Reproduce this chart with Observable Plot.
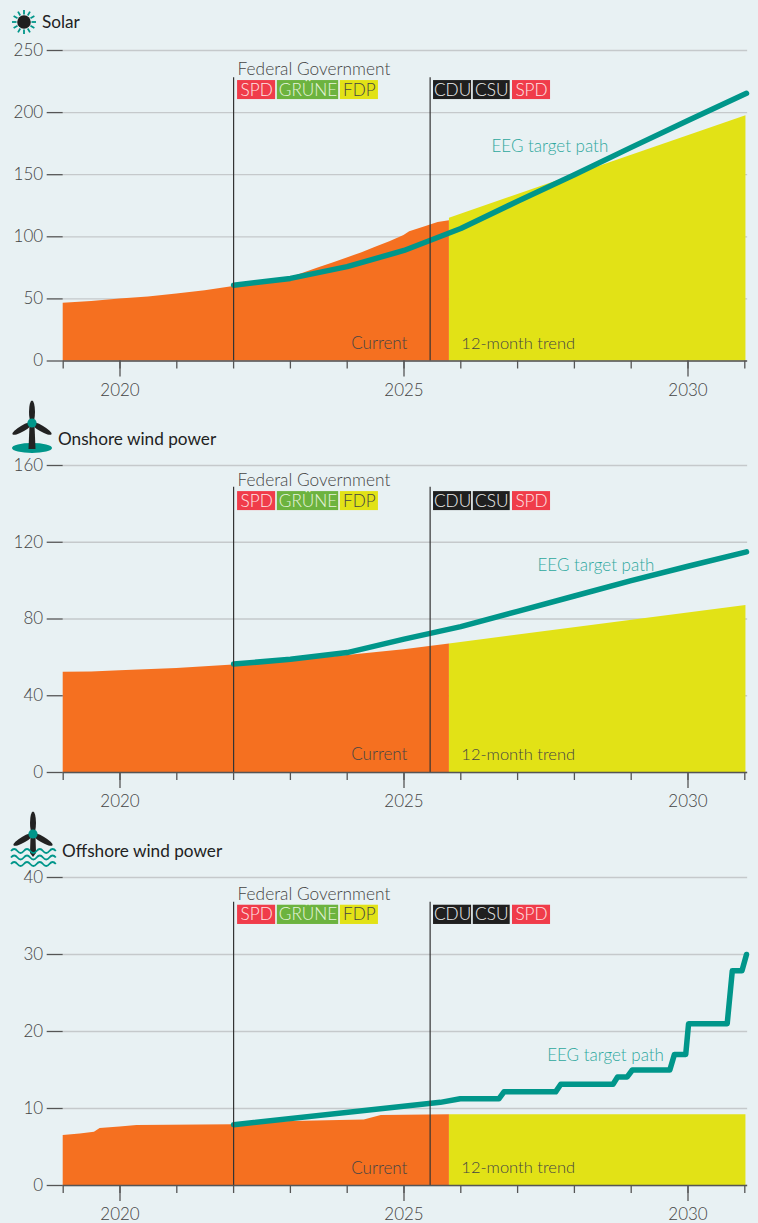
<!DOCTYPE html>
<html>
<head>
<meta charset="utf-8">
<script src="https://cdn.jsdelivr.net/npm/d3@7"></script>
<script src="https://cdn.jsdelivr.net/npm/@observablehq/plot@0.6"></script>
<style>
html,body{margin:0;padding:0;background:#e8f1f3;}
#page{position:relative;width:758px;height:1223px;overflow:hidden;font-family:Lato,sans-serif;}
#page svg{position:absolute;left:0;background:transparent;overflow:visible;}
.ttl{position:absolute;font-size:17.2px;color:#222;line-height:20px;font-weight:400;white-space:nowrap;}
</style>
</head>
<body>
<div id="page"></div>
<script>
const years = [2019,2020,2021,2022,2023,2024,2025,2026,2027,2028,2029,2030,2031];
const labelledYears = [2020,2025,2030];
const govChange = [2022, 2025.46];

const solarActualX = [2019,2019.5,2020,2020.5,2021,2021.5,2022,2022.5,2023,2023.25,2023.5,2023.75,2024,2024.25,2024.5,2024.75,2025,2025.1,2025.4,2025.6,2025.8];
const solarActualY = [46.5,48,50,51.5,54,56.5,60,63,67,71,75,79,83,87,91.5,96,101,104,108.5,111.5,113];
const solarTrendX = [2025.8,2031.02];
const solarTrendY = [115,197.5];
const solarTargetX = [2022,2023,2024,2025,2026,2027,2028,2029,2030,2031.03];
const solarTargetY = [61,66.5,76,89,106.7,128.6,150,172,193.6,215.5];

const onshoreActualX = [2019,2019.5,2020,2021,2022,2023,2024,2025,2025.8];
const onshoreActualY = [52.2,52.4,53,54.2,56,58,61,64,67];
const onshoreTrendX = [2025.8,2031.02];
const onshoreTrendY = [67,87];
const onshoreTargetX = [2022,2023,2024,2025,2026,2027,2028,2029,2030,2031.03];
const onshoreTargetY = [56.5,59,62.5,69.5,76,84,92,100,107.5,115];

const offshoreActualX = [2019,2019.3,2019.55,2019.65,2020,2020.3,2022,2023,2024.3,2024.6,2025.8];
const offshoreActualY = [6.5,6.7,6.9,7.4,7.6,7.8,7.9,8.3,8.5,9.1,9.2];
const offshoreTrendX = [2025.8,2031.02];
const offshoreTrendY = [9.2,9.2];
const offshoreTargetX = [2022,2025.64,2025.99,2026.67,2026.76,2027.67,2027.76,2028.68,2028.76,2028.93,2029.02,2029.68,2029.76,2029.96,2030.01,2030.69,2030.78,2030.95,2031.03];
const offshoreTargetY = [7.9,10.8,11.26,11.26,12.16,12.16,13.16,13.16,14.1,14.1,15,15,17,17,21,21,27.9,27.9,30];

const tagNames = ["SPD","GRÜNE","FDP","CDU","CSU","SPD"];
const tagStart = [2022.07,2022.77,2023.88,2025.52,2026.22,2026.91];
const tagEnd = [2022.74,2023.85,2024.55,2026.19,2026.87,2027.58];
const tagFill = ["#f03c4a","#6cb33f","#e2e216","#1f1f1f","#1f1f1f","#f03c4a"];
const tagInk = ["#fde6e6","#e6f3dc","#444","#eee","#eee","#fde6e6"];

const ORANGE="#f57020", YELLOW="#e2e216", TEAL="#00968a", TEALTXT="#2fa89e", GRID="#c5c9cb", INK="#444", FONT="Lato";

const zip=(xs,ys)=>xs.map((x,i)=>({x,y:ys[i]}));
const tags=tagNames.map((name,i)=>({name,x1:tagStart[i],x2:tagEnd[i],fill:tagFill[i],ink:tagInk[i]}));

const panels=[
 {top:0,h:405,mt:50,mb:44.5,max:250,xPad:7,ticks:[0,50,100,150,200,250],actual:zip(solarActualX,solarActualY),trend:zip(solarTrendX,solarTrendY),target:zip(solarTargetX,solarTargetY),ruleTop:228,fedY:234.7,tagTop:225.8,tagBot:210.5,eegX:2026.54,eegY:173,curY:14},
 {top:400,h:415,mt:65,mb:43,max:160,xPad:6,ticks:[0,40,80,120,160],actual:zip(onshoreActualX,onshoreActualY),trend:zip(onshoreTrendX,onshoreTrendY),target:zip(onshoreTargetX,onshoreTargetY),ruleTop:148.6,fedY:152.1,tagTop:146.4,tagBot:136.5,eegX:2027.35,eegY:108,curY:9.3},
 {top:810,h:413,mt:67,mb:38,max:40,xPad:6,ticks:[0,10,20,30,40],actual:zip(offshoreActualX,offshoreActualY),trend:zip(offshoreTrendX,offshoreTrendY),target:zip(offshoreTargetX,offshoreTargetY),ruleTop:36.8,fedY:37.8,tagTop:36.4,tagBot:33.9,eegX:2027.52,eegY:16.9,curY:2.25}
];

const page=document.getElementById("page");
for(const p of panels){
 const fs=17;
 const chart=Plot.plot({
  width:758,height:p.h,marginLeft:62.7,marginRight:13.7,marginTop:p.mt,marginBottom:p.mb,
  style:{background:"transparent",fontFamily:FONT,fontSize:fs+"px",overflow:"visible"},
  x:{type:"linear",domain:[2019,2031],axis:null},
  y:{type:"linear",domain:[0,p.max],axis:null},
  marks:[
   Plot.ruleY(p.ticks,{x1:()=>2019,x2:()=>2031.05,stroke:GRID,strokeWidth:1.3}),
   Plot.areaY(p.actual,{x:"x",y:"y",fill:ORANGE}),
   Plot.areaY(p.trend,{x:"x",y:"y",fill:YELLOW}),
   Plot.line(p.target,{x:"x",y:"y",stroke:TEAL,strokeWidth:5.5,strokeLinejoin:"round",strokeLinecap:"round"}),
   Plot.ruleX(govChange,{y1:()=>0,y2:()=>p.ruleTop,stroke:"#333",strokeWidth:1.2}),
   Plot.ruleY([0],{x1:()=>2019,x2:()=>2031.05,stroke:"#555",strokeWidth:1.3}),
   Plot.axisY({ticks:p.ticks,tickSize:16,tickPadding:4,anchor:"left",stroke:"#555",strokeWidth:1.3,fill:INK,fontSize:fs,fontWeight:300,label:null,fontFamily:FONT}),
   Plot.axisX({ticks:years,anchor:"bottom",tickSize:8,tickFormat:()=>"",stroke:"#555",strokeWidth:1.3,label:null}),
   Plot.axisX({ticks:labelledYears,anchor:"bottom",tickSize:16,tickPadding:p.xPad,tickFormat:d3.format("d"),stroke:"#555",strokeWidth:1.3,fill:INK,fontSize:fs,fontWeight:300,label:null,fontFamily:FONT}),
   Plot.text(["Federal Government"],{x:()=>2022.07,y:()=>p.fedY,text:d=>d,textAnchor:"start",fill:"#444",fontSize:17.3,fontWeight:300}),
   Plot.rect(tags,{x1:"x1",x2:"x2",y1:()=>p.tagBot,y2:()=>p.tagTop,fill:"fill"}),
   Plot.text(tags,{x:d=>(d.x1+d.x2)/2,y:()=>(p.tagTop+p.tagBot)/2,text:"name",fill:"ink",fontSize:17.2,fontWeight:300}),
   Plot.text(["Current"],{x:()=>2025.06,y:()=>p.curY,text:d=>d,textAnchor:"end",fill:"#444",fontSize:17,fontWeight:300}),
   Plot.text(["12-month trend"],{x:()=>2026.01,y:()=>p.curY,text:d=>d,textAnchor:"start",fill:"#444",fontSize:16.5,fontWeight:300}),
   Plot.text(["EEG target path"],{x:()=>p.eegX,y:()=>p.eegY,text:d=>d,textAnchor:"start",fill:TEALTXT,fontSize:17,fontWeight:300})
  ]
 });
 chart.style.top=p.top+"px";
 page.appendChild(chart);
}

const titles=[["Solar",42,12],["Onshore wind power",58,429],["Offshore wind power",62,841]];
for(const [t,l,tp] of titles){
 const d=document.createElement("div");d.className="ttl";d.textContent=t;d.style.left=l+"px";d.style.top=tp+"px";page.appendChild(d);
}

const rays=d3.range(12).map(i=>`<line x1="24" y1="10" x2="24" y2="14.5" stroke="${TEAL}" stroke-width="1.8" transform="rotate(${i*30} 24 22)"/>`).join("");
const turbine=(cx,cy)=>[0,120,240].map(a=>`<ellipse cx="${cx}" cy="${cy-11}" rx="3" ry="11.5" fill="#222" transform="rotate(${a} ${cx} ${cy})"/>`).join("");
const wave=y=>`<path d="M11 ${y} q3.2 -4 6.4 0 t6.4 0 t6.4 0 t6.4 0 t6.4 0 t6.4 0 t6.4 0" fill="none" stroke="${TEAL}" stroke-width="1.8"/>`;
const icons=document.createElementNS("http://www.w3.org/2000/svg","svg");
icons.setAttribute("width","758");icons.setAttribute("height","1223");icons.style.top="0";
icons.innerHTML=`${rays}<circle cx="24" cy="22" r="6.8" fill="#1f1f1f"/>
<ellipse cx="32" cy="448" rx="20" ry="5" fill="${TEAL}"/>
<path d="M29.5 425 L28.5 449 L35.5 449 L34.5 425 Z" fill="#222"/>${turbine(32,423)}<circle cx="32" cy="423" r="4.6" fill="${TEAL}"/>
<path d="M30.5 836 L30 853 L33 857 L36 853 L35.5 836 Z" fill="#222"/>${turbine(33,834)}<circle cx="33" cy="834" r="4.6" fill="${TEAL}"/>
${wave(851)}${wave(857.5)}${wave(864)}`;
page.appendChild(icons);
</script>
</body>
</html>
